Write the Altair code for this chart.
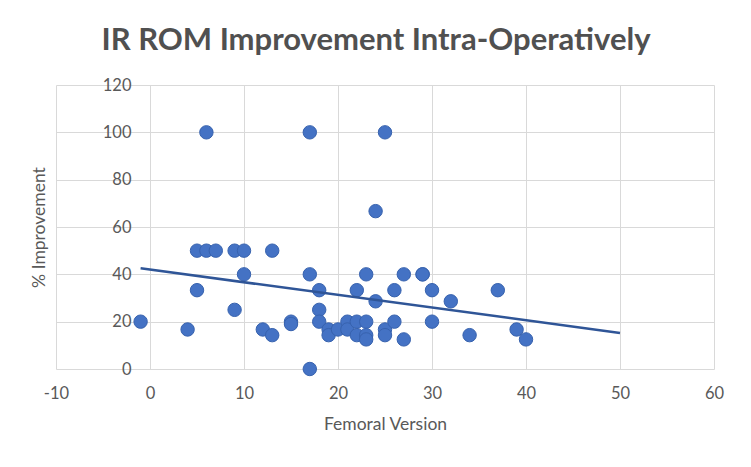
import altair as alt
import pandas as pd

femoral_version = [-1, 4, 5, 5, 6, 6, 7, 9, 9, 10, 10, 12, 13, 13, 15, 15, 17, 17, 17,
                   18, 18, 18, 19, 19, 20, 21, 21, 22, 22, 22, 23, 23, 23, 23, 24, 24,
                   25, 25, 25, 26, 26, 27, 27, 29, 29, 30, 30, 32, 34, 37, 39, 40]
improvement = [20, 16.7, 33.3, 50, 50, 100, 50, 50, 25, 50, 40, 16.7, 50, 14.3, 20, 19,
               100, 40, 0, 33.3, 25, 20, 16.7, 14.3, 16.7, 20, 16.7, 20, 33.3, 14.3,
               40, 20, 14.3, 12.5, 66.7, 28.6, 100, 16.7, 14.3, 33.3, 20, 40, 12.5,
               40, 40, 33.3, 20, 28.6, 14.3, 33.3, 16.7, 12.5]

x_ticks = [-10, 0, 10, 20, 30, 40, 50, 60]
y_ticks = [0, 20, 40, 60, 80, 100, 120]

df = pd.DataFrame({"fv": femoral_version, "imp": improvement})

FONT = "Lato"
GRID = "#D9D9D9"
TEXT = "#595959"

x_enc = alt.X(
    "fv:Q",
    scale=alt.Scale(domain=[-10, 60], nice=False, zero=False),
    axis=alt.Axis(
        title="Femoral Version", values=x_ticks, grid=True, gridColor=GRID,
        domain=False, ticks=False, labelPadding=16, labelFlush=False,
        labelExpr="'' + datum.value",
        labelFont=FONT, labelFontSize=16.5, labelColor=TEXT,
        titleFont=FONT, titleFontSize=17.5, titleFontWeight="normal", titleColor=TEXT,
        titleY=55, titleBaseline="middle",
    ),
)
y_enc = alt.Y(
    "imp:Q",
    scale=alt.Scale(domain=[0, 120], nice=False),
    axis=alt.Axis(
        title="% Improvement", values=y_ticks, grid=True, gridColor=GRID,
        domain=False, ticks=False, labelPadding=-75,
        labelFont=FONT, labelFontSize=16.5, labelColor=TEXT,
        titleFont=FONT, titleFontSize=17.5, titleFontWeight="normal", titleColor=TEXT,
        titleX=-17, titleY=142, titleAngle=-90, titleAlign="center", titleBaseline="middle",
    ),
)

points = alt.Chart(df).mark_circle(
    size=180, color="#4472C4", stroke="#3762AE", strokeWidth=1, opacity=1
).encode(x=x_enc, y=y_enc)

trend = alt.Chart(df).transform_regression(
    "fv", "imp", extent=[-1, 50]
).mark_line(color="#2F5597", strokeWidth=2.5).encode(x="fv:Q", y="imp:Q")

chart = alt.layer(points, trend).properties(
    width=658,
    height=284,
    autosize=alt.AutoSizeParams(type="none"),
    padding={"left": 48, "top": 77, "right": 29, "bottom": 90},
    title=alt.TitleParams(
        "IR ROM Improvement Intra-Operatively", font=FONT, fontSize=31,
        fontWeight="bold", color="#505050", anchor="middle", frame="group",
        baseline="alphabetic", offset=33, dx=-9, dy=37,
    ),
    background="white",
).configure_view(strokeWidth=0)

chart.save("out.html", embed_options={"renderer": "svg", "actions": False})
